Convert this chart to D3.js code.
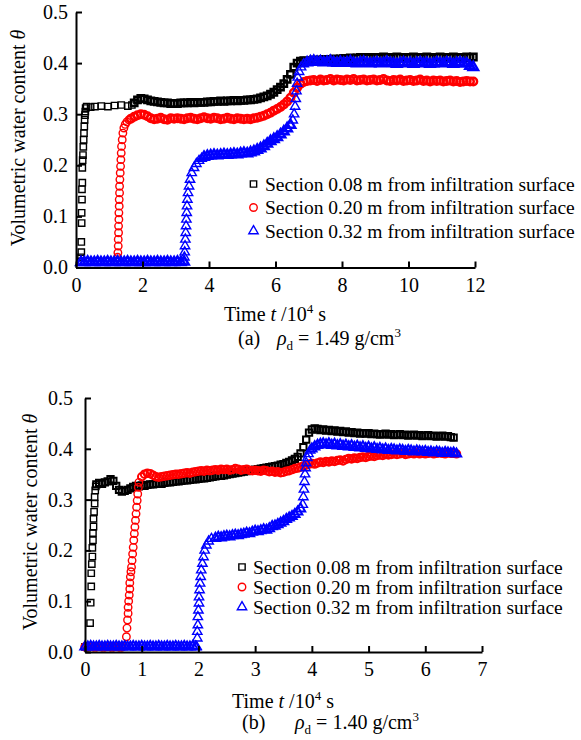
<!DOCTYPE html>
<html><head><meta charset="utf-8">
<script src="https://cdn.jsdelivr.net/npm/d3@7"></script>
<style>
body{margin:0;background:#fff}
svg{display:block}
text{font-family:"Liberation Serif","Times New Roman",serif;fill:#000}
</style>
</head><body>
<svg id="c" width="581" height="740"></svg>
<script>
// ---------- labels / ticks ----------
const xTicksA = [0, 2, 4, 6, 8, 10, 12];
const xTicksB = [0, 1, 2, 3, 4, 5, 6, 7];
const yTicks = [0.0, 0.1, 0.2, 0.3, 0.4, 0.5];
const legendLabels = [
  "Section 0.08 m from infiltration surface",
  "Section 0.20 m from infiltration surface",
  "Section 0.32 m from infiltration surface"
];
const seriesColors = ["#000000", "#ff0000", "#0000ff"];
const captionA = ["(a)", "1.49"];
const captionB = ["(b)", "1.40"];

// ---------- panel (a): rho_d = 1.49 g/cm3, time in 10^4 s ----------
// 0.08 m section: early rise + sparse plateau (time, theta)
const a008Rise = [[0.15,0.012],[0.15,0.02],[0.16,0.03],[0.16,0.05],[0.17,0.087],[0.17,0.107],[0.18,0.133],[0.18,0.153],[0.19,0.166],[0.19,0.195],[0.20,0.21],[0.21,0.22],[0.22,0.236],[0.23,0.25],[0.24,0.263],[0.25,0.276],[0.26,0.289],[0.27,0.298],[0.28,0.305],[0.29,0.312],[0.32,0.315],[0.44,0.314],[0.57,0.315],[0.76,0.316],[0.96,0.315],[1.16,0.317],[1.36,0.318],[1.56,0.316],[1.68,0.318]];
// dense logging from t = 1.75, every 0.1
const a008Start = 1.75, a008Step = 0.1;
const a008Values = [0.322,0.328,0.331,0.330,
 0.328,0.326,0.325,0.324,0.323,0.322,0.322,0.321,0.321,
 0.321,0.322,0.322,0.322,0.323,0.322,0.323,0.323,0.323,0.324,
 0.324,0.325,0.325,0.326,0.325,0.326,0.326,0.327,0.326,0.327,
 0.327,0.328,0.328,0.329,0.330,0.332,0.334,0.336,0.339,0.343,
 0.348,0.353,0.360,0.368,0.378,0.392,0.400,0.404,0.405,0.404,
 0.405,0.406,0.405,0.406,0.407,0.406,0.407,0.408,0.407,0.408,
 0.409,0.408,0.410,0.409,0.410,0.411,0.410,0.411,0.410,0.411,
 0.411,0.410,0.412,0.411,0.410,0.411,0.412,0.411,0.410,0.411,
 0.411,0.412,0.411,0.410,0.411,0.412,0.411,0.410,0.411,0.412,
 0.411,0.410,0.411,0.412,0.411,0.410,0.411,0.412,0.411,0.412];

// 0.20 m section
const a020Rise = [[1.25,0.02],[1.26,0.029],[1.27,0.042],[1.27,0.055],[1.28,0.068],[1.28,0.081],[1.29,0.094],[1.29,0.107],[1.30,0.12],[1.30,0.133],[1.31,0.146],[1.31,0.159],[1.32,0.172],[1.33,0.185],[1.34,0.198],[1.35,0.211],[1.36,0.224],[1.37,0.237],[1.39,0.25],[1.41,0.263],[1.44,0.273],[1.48,0.28],[1.53,0.285],[1.59,0.289]];
const a020Start = 1.65, a020Step = 0.1;
const a020Values = [0.291,0.295,0.298,0.300,
 0.299,0.296,0.292,0.290,0.291,0.293,0.290,0.289,0.292,0.291,
 0.292,0.291,0.290,0.292,0.293,0.291,0.290,0.292,0.294,0.292,
 0.291,0.293,0.292,0.290,0.291,0.293,0.291,0.290,0.292,0.291,
 0.290,0.291,0.290,0.292,0.293,0.295,0.297,0.300,0.303,0.307,
 0.310,0.314,0.319,0.325,0.332,0.342,0.352,0.359,0.363,0.365,
 0.366,0.367,0.365,0.368,0.366,0.367,0.369,0.366,0.368,0.367,
 0.366,0.368,0.367,0.369,0.366,0.367,0.368,0.366,0.367,0.368,
 0.366,0.367,0.369,0.366,0.365,0.367,0.366,0.368,0.365,0.366,
 0.367,0.365,0.366,0.368,0.365,0.366,0.364,0.366,0.365,0.366,
 0.364,0.365,0.366,0.364,0.365,0.363,0.364,0.365,0.364,0.364];

// 0.32 m section
const a032BaseStart = 0.15, a032BaseStep = 0.1;
const a032Base = [0.010,0.010,0.011,0.010,0.010,0.011,0.010,0.010,0.011,0.010,
 0.010,0.011,0.010,0.010,0.011,0.010,0.010,0.011,0.010,0.010,
 0.011,0.010,0.010,0.011,0.010,0.010,0.011,0.010,0.010,0.011,0.010,0.011];
const a032Rise = [[3.26,0.02],[3.27,0.03],[3.28,0.042],[3.29,0.055],[3.30,0.068],[3.31,0.081],[3.32,0.094],[3.33,0.107],[3.34,0.12],[3.35,0.133],[3.37,0.146],[3.40,0.159],[3.43,0.172],[3.48,0.185],[3.55,0.195],[3.62,0.203],[3.70,0.209],[3.78,0.213]];
const a032Start1 = 3.85, a032Step = 0.1;
const a032Values1 = [0.216,0.218,0.219,0.220,0.219,0.220,0.221,0.220,0.221,0.222,
 0.221,0.223,0.224,0.223,0.225,0.227,0.230,0.233,0.237,0.242,
 0.247,0.251,0.255,0.260,0.266,0.272,0.279];
const a032Jump = [[6.52,0.288],[6.56,0.30],[6.59,0.315],[6.61,0.33],[6.63,0.345],[6.65,0.36],[6.67,0.372],[6.71,0.383],[6.77,0.392],[6.85,0.398]];
const a032Start2 = 6.95;
const a032Values2 = [0.401,0.403,0.404,0.402,0.403,0.401,0.402,0.404,0.401,0.400,
 0.402,0.400,0.401,0.403,0.400,0.399,0.401,0.402,0.400,0.399,
 0.400,0.401,0.399,0.400,0.402,0.400,0.399,0.398,0.400,0.401,
 0.399,0.400,0.398,0.400,0.401,0.399,0.400,0.398,0.399,0.401,
 0.400,0.399,0.401,0.400,0.398,0.400,0.401,0.399,0.399,0.394,0.392];

// ---------- panel (b): rho_d = 1.40 g/cm3 ----------
const b008Rise = [[0.0,0.010],[0.05,0.010],[0.09,0.057],[0.10,0.097],[0.11,0.129],[0.11,0.155],[0.12,0.173],[0.13,0.188],[0.13,0.205],[0.14,0.22],[0.14,0.234],[0.15,0.247],[0.15,0.262],[0.16,0.276],[0.17,0.292],[0.17,0.305],[0.18,0.318],[0.19,0.326]];
const b008Start = 0.20, b008Step = 0.05;
const b008Values = [0.330,0.333,0.331,0.334,0.336,0.340,
 0.337,0.327,0.319,0.316,0.317,0.319,0.322,0.325,0.327,0.326,
 0.328,0.327,0.329,0.330,0.330,0.331,0.332,0.331,0.333,0.334,
 0.334,0.335,0.336,0.336,0.337,0.338,0.338,0.339,0.340,0.340,
 0.341,0.342,0.342,0.343,0.344,0.345,0.346,0.347,0.347,0.348,
 0.349,0.350,0.351,0.352,0.353,0.354,0.355,0.356,0.357,0.358,
 0.359,0.360,0.361,0.362,0.363,0.364,0.365,0.366,0.367,0.369,
 0.370,0.372,0.374,0.377,0.380,0.384,0.391,0.403,0.418,0.432,
 0.438,0.440,0.439,0.437,0.438,0.436,0.437,0.435,0.436,0.434,
 0.435,0.433,0.434,0.432,0.433,0.431,0.432,0.430,0.431,0.430,
 0.431,0.429,0.430,0.429,0.428,0.429,0.430,0.428,0.429,0.427,
 0.428,0.429,0.427,0.428,0.426,0.427,0.428,0.426,0.427,0.425,
 0.426,0.427,0.425,0.426,0.424,0.425,0.426,0.424,0.425,0.423,
 0.422];

const b020PreStart = 0.0, b020PreStep = 0.05;
const b020Pre = [0.010,0.010,0.011,0.010,0.010,0.011,0.010,0.010,0.011,0.010,0.010,0.011,0.010,0.010];
const b020Rise = [[0.73,0.03],[0.74,0.047],[0.75,0.063],[0.76,0.076],[0.76,0.088],[0.77,0.1],[0.78,0.112],[0.79,0.124],[0.79,0.136],[0.80,0.148],[0.81,0.158],[0.82,0.167],[0.83,0.18],[0.84,0.193],[0.85,0.206],[0.86,0.22],[0.87,0.233],[0.88,0.246],[0.89,0.259],[0.90,0.272],[0.91,0.285],[0.92,0.298],[0.93,0.311],[0.94,0.324],[0.95,0.334]];
const b020Start = 1.00, b020Step = 0.05;
const b020Values = [0.345,0.350,0.352,0.351,0.348,0.345,0.344,0.345,0.346,0.347,
 0.348,0.349,0.350,0.350,0.351,0.352,0.353,0.352,0.354,0.355,
 0.356,0.357,0.356,0.358,0.357,0.358,0.359,0.358,0.360,0.359,
 0.360,0.358,0.359,0.361,0.360,0.358,0.359,0.360,0.358,0.357,
 0.358,0.357,0.356,0.358,0.357,0.355,0.356,0.354,0.355,0.353,
 0.354,0.356,0.357,0.359,0.361,0.362,0.364,0.366,0.368,0.370,
 0.371,0.370,0.372,0.374,0.373,0.375,0.374,0.376,0.375,0.377,
 0.378,0.376,0.379,0.381,0.380,0.382,0.381,0.383,0.384,0.383,
 0.385,0.386,0.385,0.387,0.388,0.387,0.389,0.388,0.389,0.390,
 0.389,0.390,0.391,0.389,0.390,0.391,0.390,0.392,0.390,0.391,
 0.390,0.391,0.392,0.390,0.391,0.392,0.391,0.390,0.392,0.391,
 0.391,0.390];

const b032BaseStart = 0.0, b032BaseStep = 0.05;
const b032Base = [0.010,0.010,0.011,0.010,0.010,0.011,0.010,0.010,0.011,0.010,
 0.010,0.011,0.010,0.010,0.011,0.010,0.010,0.011,0.010,0.010,
 0.011,0.010,0.010,0.011,0.010,0.010,0.011,0.010,0.010,0.011,
 0.010,0.010,0.011,0.010,0.010,0.011,0.010,0.010,0.011,0.010];
const b032Rise = [[1.97,0.01],[1.98,0.027],[1.98,0.04],[1.99,0.053],[1.99,0.069],[2.00,0.082],[2.01,0.096],[2.01,0.108],[2.02,0.122],[2.03,0.135],[2.04,0.148],[2.05,0.161],[2.07,0.174],[2.09,0.187],[2.11,0.2],[2.14,0.21],[2.18,0.218],[2.23,0.223]];
const b032Start1 = 2.30, b032Step = 0.05;
const b032Values1 = [0.224,0.226,0.225,0.227,0.228,0.227,0.229,0.230,0.229,0.231,
 0.232,0.234,0.233,0.236,0.238,0.237,0.239,0.241,0.240,0.243,
 0.247,0.248,0.251,0.254,0.257,0.261,0.264,0.267,0.271,0.276,0.282];
const b032Jump = [[3.84,0.29],[3.85,0.305],[3.86,0.32],[3.87,0.335],[3.88,0.35],[3.89,0.362],[3.90,0.372],[3.92,0.382],[3.94,0.39],[3.97,0.397]];
const b032Start2 = 4.00;
const b032Values2 = [0.400,0.404,0.407,0.409,0.410,0.408,0.410,0.407,0.409,0.406,
 0.408,0.405,0.407,0.404,0.406,0.403,0.405,0.402,0.404,0.401,
 0.403,0.400,0.402,0.399,0.401,0.398,0.400,0.397,0.399,0.398,
 0.396,0.398,0.397,0.395,0.397,0.396,0.394,0.396,0.395,0.394,
 0.395,0.393,0.394,0.392,0.394,0.393,0.391,0.393,0.392,0.391,
 0.392,0.390];

// ---------- helpers ----------
// regularly logged runs are flagged as dense (third element)
function run(start, step, vals) { return vals.map((v, i) => [start + i * step, v, 1]); }

const seriesA = [
  a008Rise.concat(run(a008Start, a008Step, a008Values)),
  a020Rise.concat(run(a020Start, a020Step, a020Values)),
  run(a032BaseStart, a032BaseStep, a032Base).concat(a032Rise, run(a032Start1, a032Step, a032Values1), a032Jump, run(a032Start2, a032Step, a032Values2))
];
const seriesB = [
  b008Rise.concat(run(b008Start, b008Step, b008Values)),
  run(b020PreStart, b020PreStep, b020Pre).concat(b020Rise, run(b020Start, b020Step, b020Values)),
  run(b032BaseStart, b032BaseStep, b032Base).concat(b032Rise, run(b032Start1, b032Step, b032Values1), b032Jump, run(b032Start2, b032Step, b032Values2))
];

const svg = d3.select("#c");
const symTypes = [d3.symbolSquare, d3.symbolCircle, d3.symbolTriangle];
const symSizes = [40, 44, 38];
const FS = 20;
const LFS = 19.5;

function drawPanel(cfg) {
  const x = d3.scaleLinear().domain(cfg.xDomain).range(cfg.xRange);
  const y = d3.scaleLinear().domain([0, 0.5]).range(cfg.yRange);
  const g = svg.append("g");

  cfg.series.forEach((s, i) => {
    const sym = d3.symbol().type(symTypes[i]).size(symSizes[i]);
    g.append("g").selectAll("path").data(s).join("path")
      .attr("transform", d => `translate(${x(d[0]).toFixed(2)},${y(d[1]).toFixed(2)})`)
      .attr("d", sym)
      .attr("fill", "none")
      .attr("stroke", seriesColors[i])
      .attr("stroke-width", d => d[2] ? cfg.denseStroke : 1.4);
  });

  const xAxis = d3.axisBottom(x).tickValues(cfg.xTicks).tickFormat(d3.format("d"))
    .tickSizeInner(-6).tickSizeOuter(0).tickPadding(10);
  const yAxis = d3.axisLeft(y).tickValues(yTicks).tickFormat(d3.format(".1f"))
    .tickSizeInner(-6).tickSizeOuter(0).tickPadding(cfg.yPad);

  const gx = g.append("g").attr("transform", `translate(0,${cfg.yRange[0]})`).call(xAxis);
  const gy = g.append("g").attr("transform", `translate(${cfg.xRange[0]},0)`).call(yAxis);
  [gx, gy].forEach(a => {
    a.select(".domain").attr("stroke", "#000").attr("stroke-width", 2);
    a.selectAll(".tick line").attr("stroke", "#000").attr("stroke-width", 2);
    a.selectAll(".tick text").attr("font-size", FS).attr("fill", "#000");
  });

  // y-axis title
  const yt = g.append("text")
    .attr("transform", `translate(${cfg.yTitleX},${cfg.yTitleY}) rotate(-90)`)
    .attr("text-anchor", "middle").attr("font-size", FS);
  yt.append("tspan").text("Volumetric water content ");
  yt.append("tspan").attr("font-style", "italic").text("θ");

  // x-axis title
  const xt = g.append("text").attr("x", cfg.xTitleX).attr("y", cfg.xTitleY).attr("font-size", FS);
  xt.append("tspan").text("Time ");
  xt.append("tspan").attr("font-style", "italic").text("t");
  xt.append("tspan").text(" /10");
  xt.append("tspan").attr("font-size", 13).attr("dy", -8).text("4");
  xt.append("tspan").attr("dy", 8).text(" s");

  // caption
  const ct = g.append("text").attr("x", cfg.capX).attr("y", cfg.capY).attr("font-size", FS);
  ct.append("tspan").text(cfg.caption[0]);
  ct.append("tspan").attr("x", cfg.capRhoX).attr("font-style", "italic").text("ρ");
  ct.append("tspan").attr("font-size", 13).attr("dy", 5).text("d");
  ct.append("tspan").attr("dy", -5).text(" = " + cfg.caption[1] + " g/cm");
  ct.append("tspan").attr("font-size", 13).attr("dy", -8).text("3");

  // legend
  const lg = g.append("g");
  legendLabels.forEach((lab, i) => {
    const cy = cfg.legY[i];
    lg.append("path")
      .attr("transform", `translate(${cfg.legMarkX},${cy})`)
      .attr("d", d3.symbol().type(symTypes[i]).size(symSizes[i]))
      .attr("fill", "none").attr("stroke", seriesColors[i]).attr("stroke-width", 1.4);
    lg.append("text").attr("x", cfg.legTextX).attr("y", cy + 6.5)
      .attr("font-size", LFS)
      .text(lab);
  });
}

drawPanel({
  series: seriesA, xDomain: [0, 12], xRange: [76, 475], yRange: [267.5, 12],
  xTicks: xTicksA, yPad: 8, denseStroke: 2.5,
  yTitleX: 25, yTitleY: 138,
  xTitleX: 224, xTitleY: 321,
  capX: 238, capY: 345, capRhoX: 277, caption: captionA,
  legMarkX: 253.5, legTextX: 265, legY: [184, 207.5, 231]
});
drawPanel({
  series: seriesB, xDomain: [0, 7], xRange: [85, 482], yRange: [652, 398],
  xTicks: xTicksB, yPad: 12, denseStroke: 2.0,
  yTitleX: 37, yTitleY: 522,
  xTitleX: 232, xTitleY: 708,
  capX: 242, capY: 729, capRhoX: 295, caption: captionB,
  legMarkX: 242, legTextX: 253, legY: [567, 587, 607]
});
</script>
</body></html>
